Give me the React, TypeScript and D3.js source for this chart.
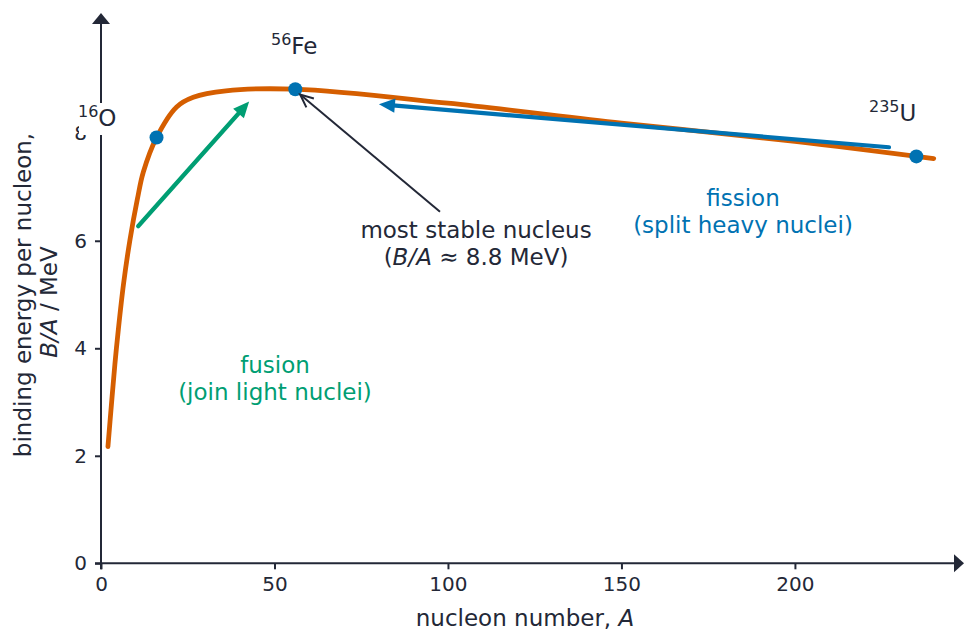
import { useRef, useEffect } from "react";
import * as d3 from "d3";

// binding energy curve
const nucleonA = [2, 3, 4, 5, 6.5, 8.3, 10.5, 12.2, 16, 21.8, 26.6, 36, 56, 100, 150, 200, 240];
const bindingB = [2.17, 2.95, 3.7, 4.35, 5.2, 6.0, 6.78, 7.28, 7.92, 8.49, 8.67, 8.79, 8.82, 8.56, 8.19, 7.85, 7.53];

// marked nuclei
const nuclei = [
  { sup: "16", sym: "O", A: 16, B: 7.92 },
  { sup: "56", sym: "Fe", A: 56, B: 8.82 },
  { sup: "235", sym: "U", A: 235, B: 7.57 },
];

const xTicks = [0, 50, 100, 150, 200];
const yTicks = [0, 2, 4, 6, 8];

// arrows in data units: [A0, B0, A1, B1]
const fusionArrow = [10.7, 6.27, 42.7, 8.59];
const fissionArrow = [227.1, 7.74, 80.1, 8.54];
const stableArrow = [97.7, 6.54, 57.4, 8.72];

const ORANGE = "#d55e00";
const BLUE = "#0072b2";
const GREEN = "#009e73";
const DARK = "#232837";
const FONT = "DejaVu Sans, sans-serif";

export default function App() {
  const ref = useRef<SVGSVGElement>(null);

  useEffect(() => {
    document.body.style.margin = "0";
    const svg = d3.select(ref.current);
    svg.selectAll("*").remove();

    const width = 964;
    const height = 630;
    svg.attr("width", width).attr("height", height).style("display", "block");

    const x = d3.scaleLinear().domain([0, 247]).range([101, 958]);
    const y = d3.scaleLinear().domain([0, 10.2]).range([563.3, 15]);

    // axis lines with arrow tips
    svg.append("line")
      .attr("x1", x(0) - 6).attr("x2", 958)
      .attr("y1", y(0)).attr("y2", y(0))
      .attr("stroke", DARK).attr("stroke-width", 2);
    svg.append("path")
      .attr("d", `M954,${y(0) - 9}L964,${y(0)}L954,${y(0) + 9}Z`)
      .attr("fill", DARK);
    svg.append("line")
      .attr("x1", x(0)).attr("x2", x(0))
      .attr("y1", y(0) + 6).attr("y2", 18)
      .attr("stroke", DARK).attr("stroke-width", 2);
    svg.append("path")
      .attr("d", `M${x(0) - 9},24L${x(0)},13L${x(0) + 9},24Z`)
      .attr("fill", DARK);

    const xAxis = svg.append("g")
      .attr("transform", `translate(0,${y(0)})`)
      .call(d3.axisBottom(x).tickValues(xTicks).tickSize(6).tickPadding(8));
    xAxis.select(".domain").remove();
    xAxis.selectAll("line").attr("stroke", DARK).attr("stroke-width", 2);
    xAxis.selectAll("text")
      .attr("font-family", FONT).attr("font-size", 20).attr("fill", DARK);

    const yAxis = svg.append("g")
      .attr("transform", `translate(${x(0)},0)`)
      .call(d3.axisLeft(y).tickValues(yTicks).tickSize(6).tickPadding(8));
    yAxis.select(".domain").remove();
    yAxis.selectAll("line").attr("stroke", DARK).attr("stroke-width", 2);
    yAxis.selectAll("text")
      .attr("font-family", FONT).attr("font-size", 20).attr("fill", DARK);

    // axis titles
    const xt = svg.append("text")
      .attr("x", 525).attr("y", 626)
      .attr("text-anchor", "middle")
      .attr("font-family", FONT).attr("font-size", 23).attr("fill", DARK);
    xt.append("tspan").text("nucleon number, ");
    xt.append("tspan").attr("font-style", "italic").text("A");

    const yt = svg.append("g").attr("transform", "translate(0,295) rotate(-90)");
    yt.append("text")
      .attr("x", 0).attr("y", 31)
      .attr("text-anchor", "middle")
      .attr("font-family", FONT).attr("font-size", 23).attr("fill", DARK)
      .text("binding energy per nucleon,");
    const yt2 = yt.append("text")
      .attr("x", -7).attr("y", 57)
      .attr("text-anchor", "middle")
      .attr("font-family", FONT).attr("font-size", 23).attr("fill", DARK);
    yt2.append("tspan").attr("font-style", "italic").text("B/A");
    yt2.append("tspan").text(" / MeV");

    // curve
    const pts = nucleonA.map((a, i) => [a, bindingB[i]] as [number, number]);
    const line = d3.line<[number, number]>()
      .x(d => x(d[0])).y(d => y(d[1]))
      .curve(d3.curveCatmullRom.alpha(0.5));
    svg.append("path")
      .datum(pts)
      .attr("d", line)
      .attr("fill", "none")
      .attr("stroke", ORANGE)
      .attr("stroke-width", 4.8)
      .attr("stroke-linecap", "round")
      .attr("stroke-linejoin", "round");

    // arrows
    function arrow(a: number[], color: string, w: number, head: number, filled: boolean) {
      const x0 = x(a[0]), y0 = y(a[1]), x1 = x(a[2]), y1 = y(a[3]);
      const ang = Math.atan2(y1 - y0, x1 - x0);
      const ux = Math.cos(ang), uy = Math.sin(ang);
      const half = head * 0.45;
      const bx = x1 - ux * head, by = y1 - uy * head;
      if (filled) {
        svg.append("line")
          .attr("x1", x0).attr("y1", y0).attr("x2", bx + ux * 2).attr("y2", by + uy * 2)
          .attr("stroke", color).attr("stroke-width", w).attr("stroke-linecap", "round");
        svg.append("path")
          .attr("d", `M${x1},${y1}L${bx - uy * half},${by + ux * half}L${bx + uy * half},${by - ux * half}Z`)
          .attr("fill", color);
      } else {
        svg.append("line")
          .attr("x1", x0).attr("y1", y0).attr("x2", x1).attr("y2", y1)
          .attr("stroke", color).attr("stroke-width", w);
        svg.append("path")
          .attr("d", `M${bx - uy * half},${by + ux * half}L${x1},${y1}L${bx + uy * half},${by - ux * half}`)
          .attr("fill", "none").attr("stroke", color).attr("stroke-width", w)
          .attr("stroke-linejoin", "miter");
      }
    }
    arrow(fusionArrow, GREEN, 4.2, 16, true);
    arrow(fissionArrow, BLUE, 4.2, 16, true);

    // nuclei dots
    svg.selectAll("circle.nuc")
      .data(nuclei)
      .enter()
      .append("circle")
      .attr("class", "nuc")
      .attr("cx", d => x(d.A))
      .attr("cy", d => y(d.B))
      .attr("r", 7)
      .attr("fill", BLUE);

    arrow(stableArrow, DARK, 2, 13, false);

    // nucleus labels
    const labelPos: Record<string, [number, number]> = {
      O: [78, 126],
      Fe: [271, 54],
      U: [869, 121],
    };
    nuclei.forEach(n => {
      const [lx, ly] = labelPos[n.sym];
      const g = svg.append("g");
      const t = g.append("text")
        .attr("x", lx).attr("y", ly)
        .attr("font-family", FONT).attr("fill", DARK);
      t.append("tspan").attr("font-size", 16).attr("dy", -9).text(n.sup);
      t.append("tspan").attr("font-size", 23).attr("dy", 9).text(n.sym);
      if (n.sym === "O") {
        const bb = (t.node() as SVGTextElement).getBBox();
        g.insert("rect", "text")
          .attr("x", bb.x + 1).attr("y", bb.y + 1)
          .attr("width", bb.width + 1).attr("height", bb.height + 3)
          .attr("fill", "white");
      }
    });

    // annotation texts
    function label(lines: { parts: { t: string; i?: boolean }[] }[], cx: number, by: number, color: string) {
      lines.forEach((ln, k) => {
        const t = svg.append("text")
          .attr("x", cx).attr("y", by + k * 27)
          .attr("text-anchor", "middle")
          .attr("font-family", FONT).attr("font-size", 23).attr("fill", color);
        ln.parts.forEach(p => {
          const s = t.append("tspan").text(p.t);
          if (p.i) s.attr("font-style", "italic");
        });
      });
    }
    label([{ parts: [{ t: "most stable nucleus" }] },
      { parts: [{ t: "(" }, { t: "B/A", i: true }, { t: " \u2248 8.8 MeV)" }] }], 476, 238, DARK);
    label([{ parts: [{ t: "fission" }] },
      { parts: [{ t: "(split heavy nuclei)" }] }], 743, 206, BLUE);
    label([{ parts: [{ t: "fusion" }] },
      { parts: [{ t: "(join light nuclei)" }] }], 275, 373, GREEN);
  }, []);

  return <svg ref={ref}></svg>;
}
